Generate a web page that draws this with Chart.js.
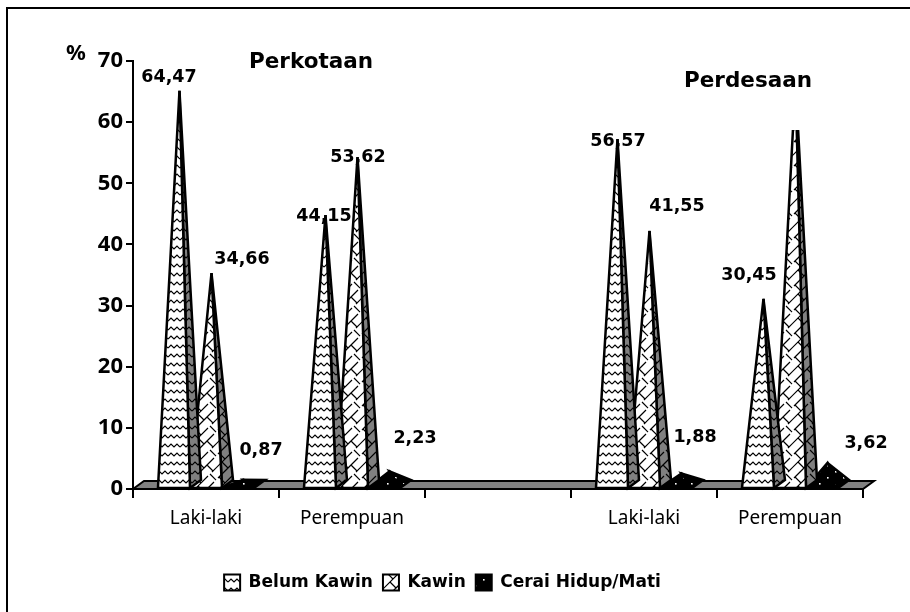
<!DOCTYPE html>
<html><head><meta charset="utf-8">
<style>html,body{margin:0;padding:0;background:#fff}canvas{display:block}</style>
<script src="https://cdn.jsdelivr.net/npm/chart.js@4"></script>
</head><body>
<canvas id="c" width="910" height="612"></canvas>
<script>
const categories = ['Laki-laki', 'Perempuan', '', 'Laki-laki', 'Perempuan'];
const belumKawin = [64.47, 44.15, null, 56.57, 30.45];
const kawin = [34.66, 53.62, null, 41.55, 65.93];
const ceraiHidupMati = [0.87, 2.23, null, 1.88, 3.62];
const seriesNames = ['Belum Kawin', 'Kawin', 'Cerai Hidup/Mati'];
const yTicks = [0, 10, 20, 30, 40, 50, 60, 70];
// label displacement from each bar's value point
const labelDx = [[-5, 4, null, 6, -9], [36, 6, null, 33, null], [23, 31, null, 19, 44]];
const labelDy = [[-17, -3, null, -2, -27], [-18, -4, null, -28, null], [-33, -37, null, -40, -23]];
const DEPTH_X = 11, DEPTH_Y = 8;
const BOLD = '"DejaVu Sans", Tahoma, sans-serif';
const UI = '"Noto Sans", Tahoma, sans-serif';

function tile(w, h, bg, draw) {
  const c = document.createElement('canvas'); c.width = w; c.height = h;
  const g = c.getContext('2d'); g.fillStyle = bg; g.fillRect(0, 0, w, h);
  g.strokeStyle = '#000'; g.lineWidth = 1.2; draw(g);
  return document.createElement('canvas').getContext('2d').createPattern(c, 'repeat');
}
const wave = g => {
  g.beginPath(); g.moveTo(0, 6); g.lineTo(3, 3); g.lineTo(6, 6); g.lineTo(9, 3); g.lineTo(12, 6); g.stroke();
};
const brick = g => {
  for (let a = -24; a <= 24; a += 24) for (let b = -24; b <= 24; b += 24) {
    g.beginPath();
    g.moveTo(a - 4, b + 16); g.lineTo(a + 16, b - 4);
    g.moveTo(a + 2, b + 22); g.lineTo(a + 22, b + 2);
    g.moveTo(a + 6, b + 6); g.lineTo(a + 12, b + 12);
    g.moveTo(a + 18, b - 6); g.lineTo(a + 24, b);
    g.moveTo(a + 15, b + 9); g.lineTo(a + 21, b + 15);
    g.moveTo(a + 27, b - 3); g.lineTo(a + 33, b + 3);
    g.stroke();
  }
};
const dots = g => { g.fillStyle = '#fff'; g.fillRect(3, 3, 1.6, 1.6); g.fillRect(11, 9, 1.6, 1.6); };
const fills = [tile(12, 9, '#fff', wave), tile(24, 24, '#fff', brick), tile(16, 12, '#000', dots)];
const sides = [tile(12, 9, '#808080', wave), tile(24, 24, '#808080', brick), tile(16, 12, '#000', dots)];

Chart.BarElement.prototype.draw = function (ctx) {
  const { x, y, base, width } = this.getProps(['x', 'y', 'base', 'width']);
  if (y == null || isNaN(y)) return;
  const d = fills.indexOf(this.options.backgroundColor);
  const l = x - width / 2, r = x + width / 2, ax = x + DEPTH_X / 2, ay = y - DEPTH_Y / 2;
  ctx.save();
  ctx.lineJoin = 'miter'; ctx.miterLimit = 4; ctx.strokeStyle = '#000'; ctx.lineWidth = 2.5;
  ctx.beginPath(); ctx.moveTo(ax, ay); ctx.lineTo(r, base); ctx.lineTo(r + DEPTH_X, base - DEPTH_Y); ctx.closePath();
  ctx.fillStyle = sides[d]; ctx.fill(); ctx.stroke();
  ctx.beginPath(); ctx.moveTo(l, base); ctx.lineTo(r, base); ctx.lineTo(ax, ay); ctx.closePath();
  ctx.fillStyle = fills[d]; ctx.fill(); ctx.stroke();
  ctx.restore();
};

const chrome = {
  id: 'chrome',
  afterLayout(chart) { chart.legend.left += 11; chart.legend.right += 11; },
  beforeDraw(chart) {
    const c = chart.ctx; c.save();
    c.fillStyle = '#fff'; c.fillRect(0, 0, chart.width, chart.height);
    c.strokeStyle = '#000'; c.lineWidth = 2;
    c.beginPath(); c.moveTo(7, chart.height); c.lineTo(7, 8); c.lineTo(chart.width, 8); c.stroke();
    c.restore();
  },
  beforeDatasetsDraw(chart) {
    const c = chart.ctx, a = chart.chartArea; c.save();
    c.fillStyle = '#808080'; c.strokeStyle = '#000'; c.lineWidth = 2;
    c.beginPath(); c.moveTo(a.left, a.bottom); c.lineTo(a.left + DEPTH_X, a.bottom - DEPTH_Y);
    c.lineTo(a.right + DEPTH_X, a.bottom - DEPTH_Y); c.lineTo(a.right, a.bottom); c.closePath();
    c.fill(); c.stroke(); c.restore();
  },
  afterDatasetsDraw(chart) {
    const c = chart.ctx; c.save();
    c.fillStyle = '#000'; c.textAlign = 'center'; c.textBaseline = 'middle';
    c.font = 'bold 17.5px ' + BOLD;
    chart.data.datasets.forEach((ds, i) => {
      chart.getDatasetMeta(i).data.forEach((el, j) => {
        if (ds.data[j] == null || labelDx[i][j] == null) return;
        c.fillText(ds.data[j].toFixed(2).replace('.', ','), el.x + labelDx[i][j], el.y + labelDy[i][j]);
      });
    });
    c.font = 'bold 21.5px ' + BOLD;
    c.fillText('Perkotaan', 311, 62);
    c.fillStyle = '#fff'; c.fillRect(675, 60, 145, 70);
    c.fillStyle = '#000'; c.fillText('Perdesaan', 748, 81);
    c.font = 'bold 22px ' + UI; c.fillText('%', 76, 54);
    c.restore();
  }
};

new Chart(document.getElementById('c'), {
  type: 'bar',
  plugins: [chrome],
  data: {
    labels: categories,
    datasets: [belumKawin, kawin, ceraiHidupMati].map((v, i) => ({
      label: seriesNames[i], data: v, backgroundColor: fills[i], borderColor: '#000', borderWidth: 2,
      categoryPercentage: 0.658, barPercentage: 1, clip: false
    }))
  },
  options: {
    responsive: false, animation: false,
    layout: { padding: { top: 61, right: 47, left: 0, bottom: 11 } },
    plugins: {
      title: { display: false }, tooltip: { enabled: false },
      legend: {
        position: 'bottom',
        labels: { boxWidth: 16, boxHeight: 16, padding: 10, color: '#000', font: { family: BOLD, size: 17, weight: 'bold' } }
      }
    },
    scales: {
      x: {
        afterFit(s) { s.height = 75; },
        grid: { drawOnChartArea: false, offset: true, color: '#000', lineWidth: 2, tickLength: 9 },
        border: { color: '#000', width: 2 },
        ticks: { color: '#000', padding: 9, maxRotation: 0, autoSkip: false, font: { family: UI, size: 19 } }
      },
      y: {
        min: 0, max: 70,
        afterFit(s) { s.width = 133; },
        afterBuildTicks(s) { s.ticks = yTicks.map(value => ({ value })); },
        grid: { drawOnChartArea: false, color: '#000', lineWidth: 2, tickLength: 7 },
        border: { color: '#000', width: 2 },
        ticks: { color: '#000', padding: 3, font: { family: UI, size: 22, weight: 'bold' } }
      }
    }
  }
});
</script>
</body></html>
